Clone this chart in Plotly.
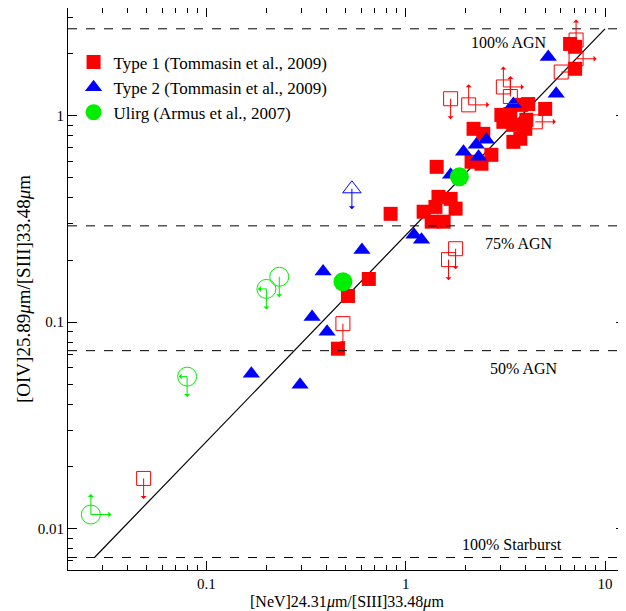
import numpy as np
import plotly.graph_objects as go

# Type 1 (Tommasin et al., 2009), detections
t1_x = [0.84, 1.43, 2.19, 2.45, 2.69, 2.14, 2.40, 1.46, 1.68, 1.23, 1.78, 1.35, 1.55, 1.41,
        3.09, 3.35, 3.80, 4.12, 4.03, 3.47, 3.76, 3.98, 5.01, 3.47, 7.08, 7.08, 6.68, 3.02,
        0.653, 0.513, 0.457]
t1_y = [0.335, 0.566, 0.865, 0.818, 0.647, 0.599, 0.586, 0.405, 0.396, 0.343, 0.355, 0.307, 0.307, 0.362,
        0.935, 1.02, 1.13, 1.14, 0.957, 0.748, 0.774, 0.865, 1.08, 0.904, 1.69, 2.16, 2.23, 1.01,
        0.162, 0.134, 0.0744]
# Type 1 limits (open squares); arrows: d=down, u=up, r=right
t1l_x = [1.68, 2.07, 3.09, 3.35, 6.03, 7.16, 4.47, 7.16, 1.78, 1.64, 0.484, 0.0484]
t1l_y = [1.21, 1.13, 1.38, 1.24, 1.63, 1.89, 0.935, 2.33, 0.227, 0.201, 0.0984, 0.0175]
t1l_arr = ["d", "ur", "ur", "u", "r", "r", "r", "u", "d", "d", "d", "d"]

# Type 2 (Tommasin et al., 2009)
t2_x = [5.19, 5.69, 3.47, 1.95, 2.26, 2.54, 2.32, 1.68, 1.10, 1.20, 0.603, 0.385, 0.339, 0.403, 0.168, 0.295]
t2_y = [1.93, 1.28, 1.14, 0.67, 0.724, 0.765, 0.633, 0.518, 0.265, 0.251, 0.224, 0.176, 0.106, 0.090, 0.0563, 0.0498]
t2l_x = [0.537]
t2l_y = [0.443]
t2l_arr = ["d"]

# Ulirg (Armus et al., 2007)
ul_x = [1.86, 0.484]
ul_y = [0.507, 0.157]
ull_x = [0.232, 0.20, 0.080, 0.0263]
ull_y = [0.166, 0.145, 0.0545, 0.0117]
ull_arr = ["d", "dl", "dl", "ur"]

line_x = [0.0275, 10.0]
line_ratio = 0.264
agn_levels = [2.64, 0.293, 0.0728, 0.00724]
agn_labels = ["100% AGN", "75% AGN", "50% AGN", "100% Starburst"]
label_x = [3.3, 3.7, 3.9, 3.4]
label_shift = [-14, -18, -18, 13]

RED, BLUE, GREEN = "#ff0000", "#0000ff", "#00ee00"
FONT = "Liberation Serif"

fig = go.Figure()
fig.add_trace(go.Scatter(x=line_x, y=[v * line_ratio for v in line_x], mode="lines",
                         line=dict(color="black", width=1.2), showlegend=False))
fig.add_trace(go.Scatter(x=t1_x, y=t1_y, mode="markers", name="Type 1 (Tommasin et al., 2009)",
                         marker=dict(symbol="square", size=14, color=RED)))
fig.add_trace(go.Scatter(x=t2_x, y=t2_y, mode="markers", name="Type 2 (Tommasin et al., 2009)",
                         marker=dict(symbol="triangle-up", size=15, color=BLUE)))
fig.add_trace(go.Scatter(x=ul_x, y=ul_y, mode="markers", name="Ulirg (Armus et al., 2007)",
                         marker=dict(symbol="circle", size=19, color=GREEN)))
fig.add_trace(go.Scatter(x=t1l_x, y=t1l_y, mode="markers", showlegend=False,
                         marker=dict(symbol="square-open", size=14, color=RED, line=dict(width=1))))
fig.add_trace(go.Scatter(x=t2l_x, y=t2l_y, mode="markers", showlegend=False,
                         marker=dict(symbol="triangle-up-open", size=16, color=BLUE, line=dict(width=1))))
fig.add_trace(go.Scatter(x=ull_x, y=ull_y, mode="markers", showlegend=False,
                         marker=dict(symbol="circle-open", size=19, color=GREEN, line=dict(width=1))))

dirs = {"d": (0, 22), "u": (0, -22), "r": (22, 0), "l": (-10, 0)}
for xs, ys, arrs, col in [(t1l_x, t1l_y, t1l_arr, RED), (t2l_x, t2l_y, t2l_arr, BLUE),
                          (ull_x, ull_y, ull_arr, GREEN)]:
    for x, y, a in zip(xs, ys, arrs):
        for c in a:
            ax, ay = dirs[c]
            fig.add_annotation(x=np.log10(x), y=np.log10(y), ax=ax, ay=ay, text="",
                               showarrow=True, arrowside="start", arrowhead=2 if c != "l" else 0,
                               arrowsize=1.2, arrowwidth=1, arrowcolor=col)

for lv, lab, lx, sh in zip(agn_levels, agn_labels, label_x, label_shift):
    fig.add_hline(y=lv, line=dict(color="black", width=1, dash="dash"))
    fig.add_annotation(x=np.log10(lx), y=np.log10(lv), text=lab, showarrow=False, yshift=sh,
                       font=dict(size=16))

# x-axis title as a paper annotation so it sits clear of the tick labels
fig.add_annotation(x=0.5, y=0, xref="paper", yref="paper", yanchor="top", yshift=-21,
                   text="[NeV]24.31<i>μ</i>m/[SIII]33.48<i>μ</i>m", showarrow=False,
                   font=dict(size=16))

axis = dict(type="log", showgrid=False, zeroline=False, ticks="inside", ticklen=9,
            showline=True, linecolor="black", linewidth=1.2, mirror="allticks",
            tickcolor="black", automargin=False,
            minor=dict(ticks="inside", ticklen=5, dtick="D1", tickcolor="black", showgrid=False))
fig.update_xaxes(axis, range=[np.log10(0.0202), np.log10(12.6)], tickvals=[0.1, 1, 10],
                 ticktext=["0.1", "1", "10"], tickfont=dict(size=15))
fig.update_yaxes(axis, range=[np.log10(0.0063), np.log10(3.33)], tickvals=[0.01, 0.1, 1],
                 ticktext=["0.01", "0.1", "1"], tickfont=dict(size=15),
                 title=dict(text="[OIV]25.89<i>μ</i>m/[SIII]33.48<i>μ</i>m", standoff=2))
fig.update_layout(width=618, height=603, margin=dict(l=60, r=1, t=0, b=41),
                  plot_bgcolor="white", paper_bgcolor="white",
                  font=dict(family=FONT, size=16, color="black"),
                  legend=dict(x=0.01, y=0.935, bgcolor="rgba(0,0,0,0)", font=dict(size=17),
                              itemsizing="trace", tracegroupgap=0))
fig.write_html("out.html")
